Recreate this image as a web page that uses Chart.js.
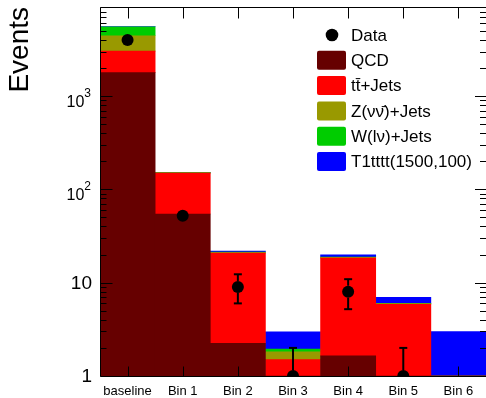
<!DOCTYPE html>
<html><head><meta charset="utf-8">
<script src="https://cdn.jsdelivr.net/npm/chart.js@4/dist/chart.umd.min.js"></script>
<style>html,body{margin:0;padding:0;background:#fff}#wrap{width:486px;height:398px;position:relative}</style>
</head><body><div id="wrap"><canvas id="c"></canvas></div>
<script>
const categories = ['baseline', 'Bin 1', 'Bin 2', 'Bin 3', 'Bin 4', 'Bin 5', 'Bin 6'];
const qcd    = [1780, 54.5, 2.24, 0.2, 1.64, 0.2, 0];
const ttbar  = [1250, 94.5, 18.5, 1.3, 16.7, 5.67, 0];
const zinv   = [1400, 1.0, 0.3, 0.31, 0.3, 0.1, 0];
const wlnu   = [1100, 1.0, 0.3, 0.13, 0.2, 0.03, 0];
const signal = [8, 0.3, 0.5, 1.03, 1.0, 0.95, 3.0];
const dataVals    = [3980, 52, 9, 1, 8, 1, null];
const dataErrLow  = [3917, 45, 6.0, 0, 5.2, 0, null];
const dataErrHigh = [4043, 59, 12.3, 2.0, 10.9, 2.0, null];
const seriesNames = ['Data', 'QCD', 'tt\u0304+Jets', 'Z(\u03BD\u03BD\u0304)+Jets', 'W(l\u03BD)+Jets', 'T1tttt(1500,100)'];
const seriesColors = ['#000000', '#660000', '#ff0000', '#999900', '#00cc00', '#0000ff'];
const yMajorTicks = [1, 10, 100, 1000];
const yTickLabels = [['1', ''], ['10', ''], ['10', '2'], ['10', '3']];
const yMinorTicks = [2,3,4,5,6,7,8,9,20,30,40,50,60,70,80,90,200,300,400,500,600,700,800,900,2000,3000,4000,5000,6000,7000,8000,9000];
const yMin = 1, yMax = 9000;
const FONT = '"Liberation Sans", Arial, Helvetica, sans-serif';
const MARKER_R = 6;

const bar = (i, vals) => ({
  type: 'bar', label: seriesNames[i], data: vals, backgroundColor: seriesColors[i],
  borderWidth: 0, barPercentage: 1, categoryPercentage: 1, stack: 'mc'
});

const rootPlugin = {
  id: 'rootStyle',
  afterDatasetsDraw(chart) {
    const {ctx, chartArea: {left, right, top, bottom}, scales: {x, y}} = chart;
    ctx.save();
    ctx.beginPath(); ctx.rect(left, top, right - left, bottom - top); ctx.clip();
    ctx.strokeStyle = '#000'; ctx.lineWidth = 2;
    dataVals.forEach((v, i) => {
      if (v === null) return;
      const px = x.getPixelForValue(i);
      const py = y.getPixelForValue(v);
      const yh = y.getPixelForValue(dataErrHigh[i]);
      const yl = dataErrLow[i] > 0 ? y.getPixelForValue(dataErrLow[i]) : bottom + 5;
      if (yh < py - MARKER_R) {
        ctx.beginPath(); ctx.moveTo(px, yh); ctx.lineTo(px, py - MARKER_R); ctx.stroke();
        ctx.beginPath(); ctx.moveTo(px - 4, yh); ctx.lineTo(px + 4, yh); ctx.stroke();
      }
      if (yl > py + MARKER_R) {
        ctx.beginPath(); ctx.moveTo(px, py + MARKER_R); ctx.lineTo(px, yl); ctx.stroke();
        if (dataErrLow[i] > 0) { ctx.beginPath(); ctx.moveTo(px - 4, yl); ctx.lineTo(px + 4, yl); ctx.stroke(); }
      }
    });
    ctx.restore();
    ctx.save();
    ctx.strokeStyle = '#000'; ctx.lineWidth = 1;
    const L = Math.round(left) + 0.5, T = Math.round(top) + 0.5, B = Math.round(bottom) + 0.5, R = right;
    ctx.beginPath();
    ctx.moveTo(L, T); ctx.lineTo(R, T);
    ctx.moveTo(L, T); ctx.lineTo(L, B);
    ctx.moveTo(L, B); ctx.lineTo(R, B);
    categories.forEach((c, i) => {
      const px = Math.round(x.getPixelForValue(i)) + 0.5;
      ctx.moveTo(px, B); ctx.lineTo(px, B - 10);
      ctx.moveTo(px, T); ctx.lineTo(px, T + 11);
    });
    yMajorTicks.forEach(v => {
      const py = Math.round(y.getPixelForValue(v)) + 0.5;
      ctx.moveTo(L, py); ctx.lineTo(L + 12, py);
      ctx.moveTo(R, py); ctx.lineTo(R - 11, py);
    });
    yMinorTicks.forEach(v => {
      const py = Math.round(y.getPixelForValue(v)) + 0.5;
      ctx.moveTo(L, py); ctx.lineTo(L + 6, py);
      ctx.moveTo(R, py); ctx.lineTo(R - 6, py);
    });
    ctx.stroke();
    ctx.fillStyle = '#000';
    yMajorTicks.forEach((v, i) => {
      const py = y.getPixelForValue(v);
      const [base, exp] = yTickLabels[i];
      if (!exp) {
        ctx.font = '19px ' + FONT; ctx.textAlign = 'right'; ctx.textBaseline = 'middle';
        ctx.fillText(base, 92, py + 1);
      } else {
        ctx.font = '12px ' + FONT; ctx.textAlign = 'right'; ctx.textBaseline = 'alphabetic';
        const ew = ctx.measureText(exp).width;
        ctx.fillText(exp, 91, py + 1);
        ctx.font = '16px ' + FONT;
        ctx.fillText(base, 91 - ew, py + 11);
      }
    });
    ctx.restore();
  },
  afterDraw(chart) {
    const {ctx} = chart;
    ctx.save();
    ctx.font = '17px ' + FONT; ctx.textBaseline = 'middle'; ctx.textAlign = 'left';
    seriesNames.forEach((name, i) => {
      const cy = 35 + i * 25.3;
      if (i === 0) {
        ctx.fillStyle = '#000'; ctx.beginPath(); ctx.arc(332, cy, 6.3, 0, Math.PI * 2); ctx.fill();
      } else {
        ctx.fillStyle = seriesColors[i];
        ctx.beginPath(); ctx.roundRect(317, cy - 9.5, 29, 19, 2); ctx.fill();
      }
      ctx.fillStyle = '#000';
      ctx.fillText(name, 351, cy + 1);
    });
    ctx.restore();
  }
};

new Chart(document.getElementById('c'), {
  data: {
    labels: categories,
    datasets: [
      {type: 'line', label: seriesNames[0], data: dataVals, showLine: false, pointRadius: MARKER_R, pointHoverRadius: MARKER_R,
       pointBackgroundColor: '#000', pointBorderWidth: 0, stack: 'data', order: 0},
      Object.assign(bar(1, qcd), {order: 1}),
      Object.assign(bar(2, ttbar), {order: 1}),
      Object.assign(bar(3, zinv), {order: 1}),
      Object.assign(bar(4, wlnu), {order: 1}),
      Object.assign(bar(5, signal), {order: 1})
    ]
  },
  options: {
    responsive: true, maintainAspectRatio: false, animation: false, devicePixelRatio: 1,
    layout: {autoPadding: false, padding: {left: 0, right: 0, top: 7, bottom: 0}},
    plugins: {legend: {display: false}, tooltip: {enabled: false}},
    scales: {
      x: {
        stacked: true, offset: true,
        grid: {display: false, drawTicks: false}, border: {display: false},
        ticks: {color: '#000', font: {family: FONT, size: 13}, padding: 8, maxRotation: 0, autoSkip: false},
        afterFit(s) { s.height = 22; s.paddingLeft = 0; s.paddingRight = 0; }
      },
      y: {
        type: 'logarithmic', stacked: true, min: yMin, max: yMax,
        grid: {display: false}, border: {display: false},
        ticks: {display: false},
        title: {display: true, text: 'Events', align: 'end', color: '#000',
                font: {family: FONT, size: 28}, padding: {top: 3, bottom: 0}},
        afterFit(s) { s.width = 100; s.paddingTop = 0; s.paddingBottom = 0; }
      }
    }
  },
  plugins: [rootPlugin]
});
</script>
</body></html>
